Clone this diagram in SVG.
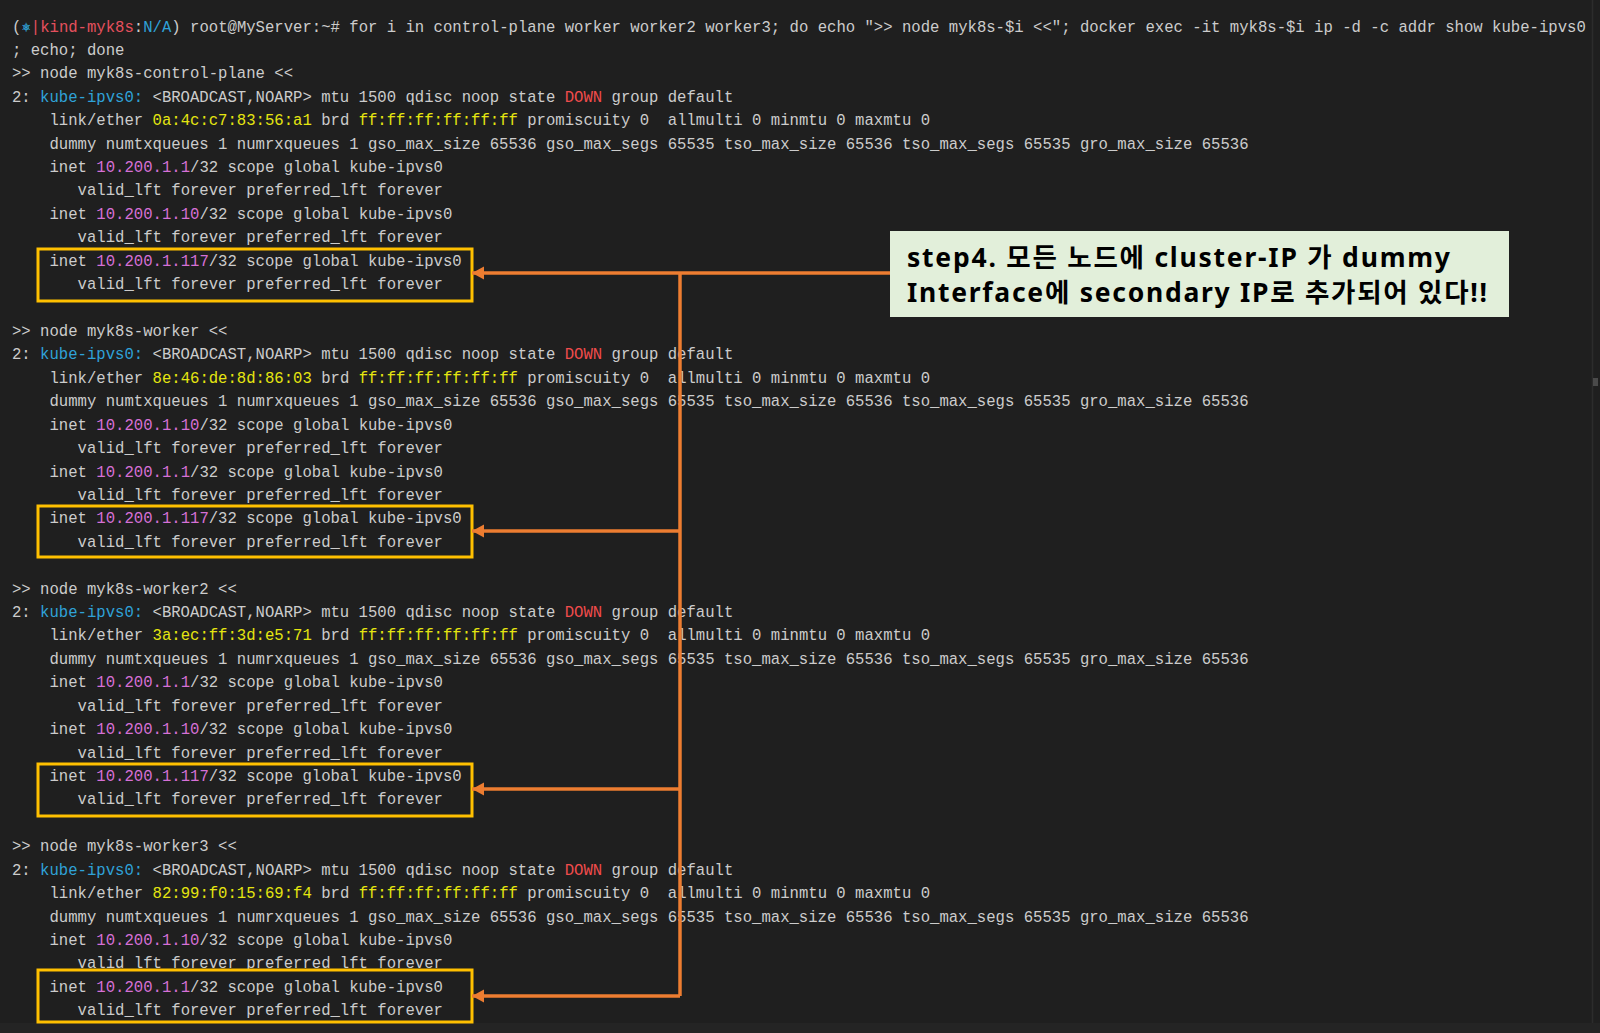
<svg xmlns="http://www.w3.org/2000/svg" width="1600" height="1033" viewBox="0 0 1600 1033">
<style>
.t{font-family:"Liberation Mono","DejaVu Sans Mono",monospace;font-size:15.625px;fill:#cccccc;white-space:pre}
.b{fill:#2fa2d8}
.m{fill:#d670d6}
.y{fill:#e5e510}
.r{fill:#f14c4c}
.k{fill:#e5505d}
.hl{fill:none;stroke:#ffc000;stroke-width:3}
.cn{fill:none;stroke:#ed7d31;stroke-width:3.5}
.note{font-family:"Noto Sans","Noto Sans CJK KR",sans-serif;font-weight:700;font-size:26.5px;fill:#000000}
</style>
<defs>
<marker id="ah" markerUnits="userSpaceOnUse" markerWidth="14" markerHeight="14" refX="12" refY="6.5" orient="auto">
<path d="M0,0 L12,6.5 L0,13 z" fill="#ed7d31"/>
</marker>
</defs>
<rect x="0" y="0" width="1600" height="1033" fill="#1f1f1f"/>
<rect x="0" y="1023" width="1600" height="10" fill="#242424"/>
<line x1="1592.5" y1="0" x2="1592.5" y2="1023" stroke="#2c2c2c" stroke-width="1.5"/>
<rect x="1593" y="378" width="5" height="8" fill="#4a4a4a"/>
<g id="terminal" xml:space="preserve">
<text class="t" x="12" y="31.5">(<tspan class="b">⎈</tspan><tspan class="k">|kind-myk8s</tspan>:<tspan class="b">N/A</tspan>) root@MyServer:~# for i in control-plane worker worker2 worker3; do echo "&gt;&gt; node myk8s-$i &lt;&lt;"; docker exec -it myk8s-$i ip -d -c addr show kube-ipvs0</text>
<text class="t" x="12" y="54.9">; echo; done</text>
<text class="t" x="12" y="78.3">&gt;&gt; node myk8s-control-plane &lt;&lt;</text>
<text class="t" x="12" y="101.8">2: <tspan class="b">kube-ipvs0:</tspan> &lt;BROADCAST,NOARP&gt; mtu 1500 qdisc noop state <tspan class="r">DOWN</tspan> group default</text>
<text class="t" x="49.5" y="125.2">link/ether <tspan class="y">0a:4c:c7:83:56:a1</tspan> brd <tspan class="y">ff:ff:ff:ff:ff:ff</tspan> promiscuity 0  allmulti 0 minmtu 0 maxmtu 0</text>
<text class="t" x="49.5" y="148.6">dummy numtxqueues 1 numrxqueues 1 gso_max_size 65536 gso_max_segs 65535 tso_max_size 65536 tso_max_segs 65535 gro_max_size 65536</text>
<text class="t" x="49.5" y="172.0">inet <tspan class="m">10.200.1.1</tspan>/32 scope global kube-ipvs0</text>
<text class="t" x="77.6" y="195.4">valid_lft forever preferred_lft forever</text>
<text class="t" x="49.5" y="218.9">inet <tspan class="m">10.200.1.10</tspan>/32 scope global kube-ipvs0</text>
<text class="t" x="77.6" y="242.3">valid_lft forever preferred_lft forever</text>
<text class="t" x="49.5" y="265.7">inet <tspan class="m">10.200.1.117</tspan>/32 scope global kube-ipvs0</text>
<text class="t" x="77.6" y="289.1">valid_lft forever preferred_lft forever</text>
<text class="t" x="12" y="336.0">&gt;&gt; node myk8s-worker &lt;&lt;</text>
<text class="t" x="12" y="359.4">2: <tspan class="b">kube-ipvs0:</tspan> &lt;BROADCAST,NOARP&gt; mtu 1500 qdisc noop state <tspan class="r">DOWN</tspan> group default</text>
<text class="t" x="49.5" y="382.8">link/ether <tspan class="y">8e:46:de:8d:86:03</tspan> brd <tspan class="y">ff:ff:ff:ff:ff:ff</tspan> promiscuity 0  allmulti 0 minmtu 0 maxmtu 0</text>
<text class="t" x="49.5" y="406.2">dummy numtxqueues 1 numrxqueues 1 gso_max_size 65536 gso_max_segs 65535 tso_max_size 65536 tso_max_segs 65535 gro_max_size 65536</text>
<text class="t" x="49.5" y="429.7">inet <tspan class="m">10.200.1.10</tspan>/32 scope global kube-ipvs0</text>
<text class="t" x="77.6" y="453.1">valid_lft forever preferred_lft forever</text>
<text class="t" x="49.5" y="476.5">inet <tspan class="m">10.200.1.1</tspan>/32 scope global kube-ipvs0</text>
<text class="t" x="77.6" y="499.9">valid_lft forever preferred_lft forever</text>
<text class="t" x="49.5" y="523.3">inet <tspan class="m">10.200.1.117</tspan>/32 scope global kube-ipvs0</text>
<text class="t" x="77.6" y="546.7">valid_lft forever preferred_lft forever</text>
<text class="t" x="12" y="593.6">&gt;&gt; node myk8s-worker2 &lt;&lt;</text>
<text class="t" x="12" y="617.0">2: <tspan class="b">kube-ipvs0:</tspan> &lt;BROADCAST,NOARP&gt; mtu 1500 qdisc noop state <tspan class="r">DOWN</tspan> group default</text>
<text class="t" x="49.5" y="640.4">link/ether <tspan class="y">3a:ec:ff:3d:e5:71</tspan> brd <tspan class="y">ff:ff:ff:ff:ff:ff</tspan> promiscuity 0  allmulti 0 minmtu 0 maxmtu 0</text>
<text class="t" x="49.5" y="663.8">dummy numtxqueues 1 numrxqueues 1 gso_max_size 65536 gso_max_segs 65535 tso_max_size 65536 tso_max_segs 65535 gro_max_size 65536</text>
<text class="t" x="49.5" y="687.3">inet <tspan class="m">10.200.1.1</tspan>/32 scope global kube-ipvs0</text>
<text class="t" x="77.6" y="710.7">valid_lft forever preferred_lft forever</text>
<text class="t" x="49.5" y="734.1">inet <tspan class="m">10.200.1.10</tspan>/32 scope global kube-ipvs0</text>
<text class="t" x="77.6" y="757.5">valid_lft forever preferred_lft forever</text>
<text class="t" x="49.5" y="780.9">inet <tspan class="m">10.200.1.117</tspan>/32 scope global kube-ipvs0</text>
<text class="t" x="77.6" y="804.4">valid_lft forever preferred_lft forever</text>
<text class="t" x="12" y="851.2">&gt;&gt; node myk8s-worker3 &lt;&lt;</text>
<text class="t" x="12" y="874.6">2: <tspan class="b">kube-ipvs0:</tspan> &lt;BROADCAST,NOARP&gt; mtu 1500 qdisc noop state <tspan class="r">DOWN</tspan> group default</text>
<text class="t" x="49.5" y="898.0">link/ether <tspan class="y">82:99:f0:15:69:f4</tspan> brd <tspan class="y">ff:ff:ff:ff:ff:ff</tspan> promiscuity 0  allmulti 0 minmtu 0 maxmtu 0</text>
<text class="t" x="49.5" y="921.5">dummy numtxqueues 1 numrxqueues 1 gso_max_size 65536 gso_max_segs 65535 tso_max_size 65536 tso_max_segs 65535 gro_max_size 65536</text>
<text class="t" x="49.5" y="944.9">inet <tspan class="m">10.200.1.10</tspan>/32 scope global kube-ipvs0</text>
<text class="t" x="77.6" y="968.3">valid_lft forever preferred_lft forever</text>
<text class="t" x="49.5" y="991.7">inet <tspan class="m">10.200.1.1</tspan>/32 scope global kube-ipvs0</text>
<text class="t" x="77.6" y="1015.1">valid_lft forever preferred_lft forever</text>
</g>
<g id="hl-control-plane"><rect class="hl" x="38" y="249" width="434" height="52"/></g>
<g id="hl-worker"><rect class="hl" x="38" y="506" width="434" height="51"/></g>
<g id="hl-worker2"><rect class="hl" x="38" y="764" width="434" height="52"/></g>
<g id="hl-worker3"><rect class="hl" x="38" y="970" width="434" height="52"/></g>
<g id="connectors">
<path class="cn" d="M890,273 H472" marker-end="url(#ah)"/>
<path class="cn" d="M680,273 V996"/>
<path class="cn" d="M680,531 H472" marker-end="url(#ah)"/>
<path class="cn" d="M680,789 H472" marker-end="url(#ah)"/>
<path class="cn" d="M680,996 H472" marker-end="url(#ah)"/>
</g>
<g id="note-step4">
<rect x="890" y="231" width="619" height="86" fill="#e2efda"/>
<text class="note" x="907" y="266.5" textLength="543" lengthAdjust="spacing">step4. 모든 노드에 cluster-IP 가 dummy</text>
<text class="note" x="907" y="301.5" textLength="580" lengthAdjust="spacing">Interface에 secondary IP로 추가되어 있다!!</text>
</g>
</svg>
